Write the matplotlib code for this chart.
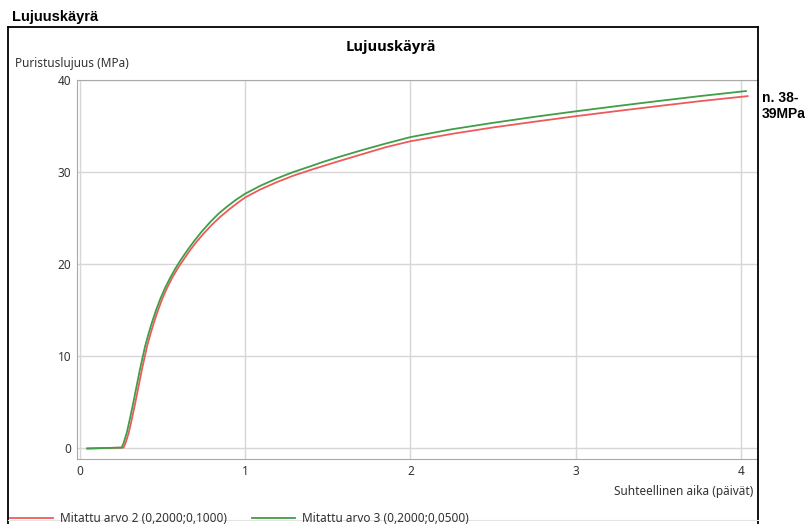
import matplotlib
matplotlib.use("Agg")
import matplotlib.pyplot as plt
from matplotlib.lines import Line2D

W, H = 809, 524

days_2 = [0.045, 0.265, 0.277, 0.296, 0.316, 0.336, 0.356, 0.376, 0.392, 0.407, 0.427,
          0.447, 0.472, 0.498, 0.527, 0.558, 0.592, 0.622, 0.66, 0.70, 0.75, 0.80,
          0.85, 0.90, 0.95, 1.0, 1.09, 1.19, 1.29, 1.39, 1.47, 1.55, 1.7, 1.85, 2.0,
          2.25, 2.5, 2.75, 3.0, 3.25, 3.5, 3.75, 4.04]
mpa_2 = [0, 0.1, 0.6, 1.7, 3.3, 5.0, 6.8, 8.6, 9.9, 11.1, 12.4,
         13.6, 14.95, 16.2, 17.4, 18.5, 19.55, 20.35, 21.35, 22.3, 23.35, 24.3,
         25.15, 25.9, 26.6, 27.25, 28.1, 28.9, 29.6, 30.2, 30.65, 31.1, 31.9, 32.7, 33.35,
         34.15, 34.85, 35.47, 36.07, 36.63, 37.17, 37.7, 38.25]

days_3 = [0.045, 0.253, 0.265, 0.284, 0.304, 0.324, 0.344, 0.364, 0.38, 0.395, 0.415,
          0.435, 0.46, 0.486, 0.515, 0.546, 0.58, 0.61, 0.65, 0.69, 0.74, 0.79,
          0.84, 0.89, 0.945, 1.0, 1.09, 1.19, 1.29, 1.39, 1.47, 1.55, 1.7, 1.85, 2.0,
          2.25, 2.5, 2.75, 3.0, 3.25, 3.5, 3.75, 4.03]
mpa_3 = [0, 0.1, 0.6, 1.7, 3.3, 5.0, 6.8, 8.6, 9.9, 11.1, 12.4,
         13.6, 14.95, 16.2, 17.4, 18.5, 19.6, 20.45, 21.5, 22.48, 23.6, 24.6,
         25.5, 26.25, 27.0, 27.65, 28.5, 29.3, 30.0, 30.6, 31.1, 31.55, 32.35, 33.1, 33.8,
         34.65, 35.35, 36.0, 36.6, 37.17, 37.72, 38.25, 38.8]

label_2 = "Mitattu arvo 2 (0,2000;0,1000)"
label_3 = "Mitattu arvo 3 (0,2000;0,0500)"
x_ticks = [0, 1, 2, 3, 4]
y_ticks = [0, 10, 20, 30, 40]

red = "#ee5a5a"
green = "#3f9e47"
ui_font = ["Noto Sans", "DejaVu Sans"]
title_font = ["Open Sans", "DejaVu Sans"]
hdr_font = ["Liberation Sans", "DejaVu Sans"]


def fx(px):
    return px / W


def fy(py):
    return 1 - py / H


fig = plt.figure(figsize=(W / 100, H / 100), dpi=100)

# outer frame of the chart control
for xs, ys in [([8, 8], [27, 530]), ([8, 758], [27, 27]), ([758, 758], [27, 530])]:
    fig.add_artist(Line2D([fx(x) for x in xs], [fy(y) for y in ys],
                          color="black", linewidth=1.3))
fig.add_artist(Line2D([fx(8), fx(758)], [fy(520), fy(520)], color="#e4e4e4", linewidth=0.8))

ax = fig.add_axes([fx(77), fy(459), (758 - 77) / W, (459 - 80) / H])
ax.plot(days_2, mpa_2, color=red, linewidth=1.3, zorder=3, solid_joinstyle="round")
ax.plot(days_3, mpa_3, color=green, linewidth=1.3, zorder=3, solid_joinstyle="round")

ax.set_xlim(-0.017, 4.103)
ax.set_ylim(-1.14, 40)
ax.set_xticks(x_ticks)
ax.set_yticks(y_ticks)
ax.grid(True, color="#d6d6d6", linewidth=1)
ax.set_axisbelow(True)
ax.tick_params(length=0, labelsize=8.5, labelcolor="#333333", pad=4)
for lab in ax.get_xticklabels() + ax.get_yticklabels():
    lab.set_family(ui_font)
for side in ["left", "bottom", "top"]:
    ax.spines[side].set_color("#a8a8a8")
ax.spines["right"].set_visible(False)

# texts
fig.text(fx(12), fy(17), "Lujuuskäyrä", fontsize=10.5, fontweight="bold",
         family=hdr_font, va="center", ha="left")
fig.text(fx(391), fy(47), "Lujuuskäyrä", fontsize=10.5, fontweight="bold",
         family=title_font, va="center", ha="center")
fig.text(fx(15), fy(63), "Puristuslujuus (MPa)", fontsize=8.5, color="#333333",
         family=ui_font, va="center", ha="left")
fig.text(fx(753), fy(492), "Suhteellinen aika (päivät)", fontsize=8.5, color="#333333",
         family=ui_font, va="center", ha="right")
fig.text(fx(762), fy(106), "n. 38-\n39MPa", fontsize=10, fontweight="bold",
         family=hdr_font, va="center", ha="left", linespacing=1.2)

# legend row at the bottom
fig.add_artist(Line2D([fx(10), fx(53)], [fy(518), fy(518)], color=red, linewidth=1.3))
fig.text(fx(60), fy(518), label_2, fontsize=8.5, color="#333333",
         family=ui_font, va="center", ha="left")
fig.add_artist(Line2D([fx(252), fx(295)], [fy(518), fy(518)], color=green, linewidth=1.3))
fig.text(fx(302), fy(518), label_3, fontsize=8.5, color="#333333",
         family=ui_font, va="center", ha="left")

fig.savefig("out.png", dpi=100)
